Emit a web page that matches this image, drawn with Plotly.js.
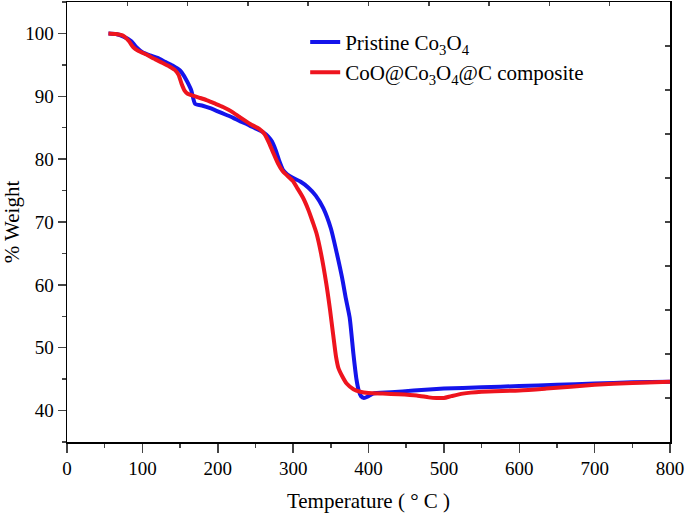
<!DOCTYPE html>
<html>
<head>
<meta charset="utf-8">
<script src="https://cdn.plot.ly/plotly-3.0.1.min.js"></script>
<style>html,body{margin:0;padding:0;background:#fff;}#chart{width:685px;height:513px;}</style>
</head>
<body>
<div id="chart"></div>
<script>
// Pristine Co3O4
const pristineTemp = [55,65,75,85,92,100,110,120,130,140,150,155,160,165,170,180,190,200,210,220,230,240,250,260,267,272,277,282,287,292,300,310,320,330,340,350,358,365,370,375,380,384,387,390,394,400,406,430,460,500,550,600,650,700,750,800];
const pristineWeight = [100,99.9,99.5,98.8,97.8,97.0,96.5,96.1,95.5,94.9,94.1,93.3,92.2,90.9,88.8,88.5,88.1,87.6,87.1,86.6,86.0,85.5,84.9,84.3,83.6,82.8,81.4,79.6,78.2,77.6,77.0,76.4,75.5,74.2,72.2,69.0,65.0,61.1,57.8,54.8,49.0,45.0,43.2,42.3,42.0,42.3,42.7,42.9,43.2,43.5,43.7,43.9,44.1,44.3,44.5,44.6];
// CoO@Co3O4@C composite
const compositeTemp = [55,65,75,82,88,95,106,115,127,135,143,148,152,156,160,165,175,185,195,207,218,229,243,255,262,268,273,280,286,292,300,305,313,320,326,331,337,344,349,353,357,360,365,371,380,389,400,419,440,464,480,490,500,510,525,550,600,636,700,750,800];
const compositeWeight = [100,99.9,99.6,98.8,97.8,97.2,96.6,96.0,95.3,94.8,94.2,93.4,92.0,90.9,90.4,90.2,89.8,89.4,88.9,88.3,87.6,86.7,85.6,84.8,84.0,82.6,81.2,79.3,78.1,77.4,76.5,75.5,73.9,72.0,70.0,68.2,65.0,60.2,56.0,52.2,48.5,46.8,45.5,44.3,43.4,43.0,42.8,42.7,42.6,42.4,42.1,42.0,42.0,42.3,42.7,43.0,43.2,43.5,44.1,44.4,44.6];
const seriesNames = ["Pristine Co<sub>3</sub>O<sub>4</sub>", "CoO@Co<sub>3</sub>O<sub>4</sub>@C composite"];
const xTickVals = [0,100,200,300,400,500,600,700,800];
const yTickVals = [40,50,60,70,80,90,100];
const topTickVals = [80,160,240,320,400,480,560,640,720];
const rightTickVals = [42,49,56,63,70,77,84,91,98];

const font = "Liberation Serif";
const traces = [
  {x: pristineTemp, y: pristineWeight, name: seriesNames[0], mode: "lines",
   line: {color: "rgb(20,20,235)", width: 4, shape: "spline", smoothing: 0.6}},
  {x: compositeTemp, y: compositeWeight, name: seriesNames[1], mode: "lines",
   line: {color: "rgb(238,20,30)", width: 4, shape: "spline", smoothing: 0.6}},
  {x: [], y: [], xaxis: "x2", yaxis: "y2", showlegend: false, hoverinfo: "skip", mode: "lines"}
];
const layout = {
  width: 685, height: 513,
  margin: {l: 67, r: 15, t: 2, b: 71},
  paper_bgcolor: "#fff", plot_bgcolor: "#fff",
  font: {family: font, color: "#000", size: 19},
  showlegend: true,
  legend: {x: 0.395, y: 0.955, xanchor: "left", yanchor: "top", bgcolor: "rgba(0,0,0,0)",
           font: {family: font, size: 21, color: "#000"}, tracegroupgap: 0},
  xaxis: {range: [0, 800], tickvals: xTickVals, ticks: "outside", ticklen: 9, tickwidth: 1.5,
          showline: true, linewidth: 1.5, linecolor: "#000", mirror: true, showgrid: false, zeroline: false,
          minor: {dtick: 50, ticks: "outside", ticklen: 4, tickwidth: 1.5, showgrid: false},
          tickfont: {family: font, size: 19, color: "#000"},
          title: {text: "Temperature ( ° C )", font: {family: font, size: 21, color: "#000"}, standoff: 16}},
  yaxis: {range: [35, 105], tickvals: yTickVals, ticks: "outside", ticklen: 8, tickwidth: 1.5,
          showline: true, linewidth: 1.5, linecolor: "#000", mirror: true, showgrid: false, zeroline: false,
          minor: {dtick: 5, ticks: "outside", ticklen: 4, tickwidth: 1.5, showgrid: false},
          tickfont: {family: font, size: 19, color: "#000"},
          title: {text: "% Weight", font: {family: font, size: 21, color: "#000"}, standoff: 10}},
  xaxis2: {overlaying: "x", side: "top", range: [0, 800], tickvals: topTickVals, ticks: "inside",
           ticklen: 4, tickwidth: 1.5, showticklabels: false, showline: false, showgrid: false, zeroline: false},
  yaxis2: {overlaying: "y", side: "right", range: [35, 105], tickvals: rightTickVals, ticks: "inside",
           ticklen: 5, tickwidth: 1.5, showticklabels: false, showline: false, showgrid: false, zeroline: false}
};
Plotly.newPlot("chart", traces, layout, {displayModeBar: false, staticPlot: true});
</script>
</body>
</html>
